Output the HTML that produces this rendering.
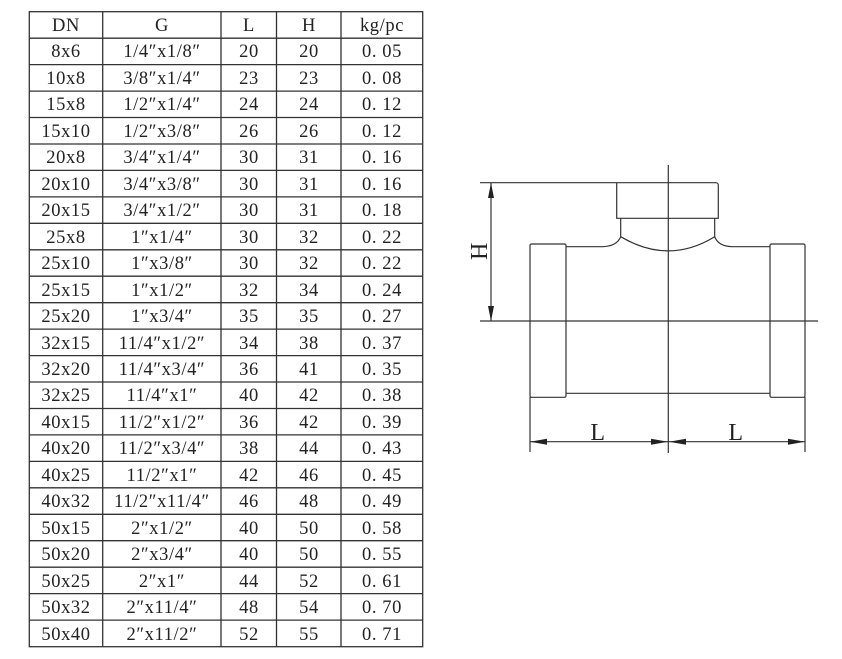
<!DOCTYPE html>
<html><head><meta charset="utf-8"><style>
html,body{margin:0;padding:0;background:#fff;}
svg{display:block;}
text{font-family:"Liberation Serif","Noto Serif CJK SC",serif;font-size:18.5px;fill:#222;letter-spacing:0.6px;}
</style></head><body>
<svg width="842" height="659" viewBox="0 0 842 659" xmlns="http://www.w3.org/2000/svg">
<g stroke="#333" stroke-width="1.3" fill="none">
<rect x="29.3" y="11.7" width="393.4" height="635"/>
<line x1="102.7" y1="11.7" x2="102.7" y2="646.7"/>
<line x1="221" y1="11.7" x2="221" y2="646.7"/>
<line x1="276.5" y1="11.7" x2="276.5" y2="646.7"/>
<line x1="341" y1="11.7" x2="341" y2="646.7"/>
<path d="M29.3 38.2H422.7M29.3 64.6H422.7M29.3 91.1H422.7M29.3 117.5H422.7M29.3 144H422.7M29.3 170.4H422.7M29.3 196.9H422.7M29.3 223.3H422.7M29.3 249.8H422.7M29.3 276.2H422.7M29.3 302.7H422.7M29.3 329.1H422.7M29.3 355.6H422.7M29.3 382H422.7M29.3 408.5H422.7M29.3 434.9H422.7M29.3 461.4H422.7M29.3 487.8H422.7M29.3 514.3H422.7M29.3 540.7H422.7M29.3 567.2H422.7M29.3 593.6H422.7M29.3 620.1H422.7"/>
</g>
<g text-anchor="middle">
<g>
<text x="66" y="31">DN</text><text x="66" y="57">8x6</text><text x="66" y="84">10x8</text><text x="66" y="110">15x8</text><text x="66" y="137">15x10</text><text x="66" y="163">20x8</text><text x="66" y="190">20x10</text><text x="66" y="216">20x15</text><text x="66" y="243">25x8</text><text x="66" y="269">25x10</text><text x="66" y="296">25x15</text><text x="66" y="322">25x20</text><text x="66" y="349">32x15</text><text x="66" y="375">32x20</text><text x="66" y="401">32x25</text><text x="66" y="428">40x15</text><text x="66" y="454">40x20</text><text x="66" y="481">40x25</text><text x="66" y="507">40x32</text><text x="66" y="534">50x15</text><text x="66" y="560">50x20</text><text x="66" y="587">50x25</text><text x="66" y="613">50x32</text><text x="66" y="640">50x40</text>
</g>
<g>
<text x="162" y="31">G</text><text x="162" y="57">1/4″x1/8″</text><text x="162" y="84">3/8″x1/4″</text><text x="162" y="110">1/2″x1/4″</text><text x="162" y="137">1/2″x3/8″</text><text x="162" y="163">3/4″x1/4″</text><text x="162" y="190">3/4″x3/8″</text><text x="162" y="216">3/4″x1/2″</text><text x="162" y="243">1″x1/4″</text><text x="162" y="269">1″x3/8″</text><text x="162" y="296">1″x1/2″</text><text x="162" y="322">1″x3/4″</text><text x="162" y="349">11/4″x1/2″</text><text x="162" y="375">11/4″x3/4″</text><text x="162" y="401">11/4″x1″</text><text x="162" y="428">11/2″x1/2″</text><text x="162" y="454">11/2″x3/4″</text><text x="162" y="481">11/2″x1″</text><text x="162" y="507">11/2″x11/4″</text><text x="162" y="534">2″x1/2″</text><text x="162" y="560">2″x3/4″</text><text x="162" y="587">2″x1″</text><text x="162" y="613">2″x11/4″</text><text x="162" y="640">2″x11/2″</text>
</g>
<g>
<text x="249" y="31">L</text><text x="249" y="57">20</text><text x="249" y="84">23</text><text x="249" y="110">24</text><text x="249" y="137">26</text><text x="249" y="163">30</text><text x="249" y="190">30</text><text x="249" y="216">30</text><text x="249" y="243">30</text><text x="249" y="269">30</text><text x="249" y="296">32</text><text x="249" y="322">35</text><text x="249" y="349">34</text><text x="249" y="375">36</text><text x="249" y="401">40</text><text x="249" y="428">36</text><text x="249" y="454">38</text><text x="249" y="481">42</text><text x="249" y="507">46</text><text x="249" y="534">40</text><text x="249" y="560">40</text><text x="249" y="587">44</text><text x="249" y="613">48</text><text x="249" y="640">52</text>
</g>
<g>
<text x="309" y="31">H</text><text x="309" y="57">20</text><text x="309" y="84">23</text><text x="309" y="110">24</text><text x="309" y="137">26</text><text x="309" y="163">31</text><text x="309" y="190">31</text><text x="309" y="216">31</text><text x="309" y="243">32</text><text x="309" y="269">32</text><text x="309" y="296">34</text><text x="309" y="322">35</text><text x="309" y="349">38</text><text x="309" y="375">41</text><text x="309" y="401">42</text><text x="309" y="428">42</text><text x="309" y="454">44</text><text x="309" y="481">46</text><text x="309" y="507">48</text><text x="309" y="534">50</text><text x="309" y="560">50</text><text x="309" y="587">52</text><text x="309" y="613">54</text><text x="309" y="640">55</text>
</g>
<g>
<text x="382" y="31">kg/pc</text><text x="382" y="57">0. 05</text><text x="382" y="84">0. 08</text><text x="382" y="110">0. 12</text><text x="382" y="137">0. 12</text><text x="382" y="163">0. 16</text><text x="382" y="190">0. 16</text><text x="382" y="216">0. 18</text><text x="382" y="243">0. 22</text><text x="382" y="269">0. 22</text><text x="382" y="296">0. 24</text><text x="382" y="322">0. 27</text><text x="382" y="349">0. 37</text><text x="382" y="375">0. 35</text><text x="382" y="401">0. 38</text><text x="382" y="428">0. 39</text><text x="382" y="454">0. 43</text><text x="382" y="481">0. 45</text><text x="382" y="507">0. 49</text><text x="382" y="534">0. 58</text><text x="382" y="560">0. 55</text><text x="382" y="587">0. 61</text><text x="382" y="613">0. 70</text><text x="382" y="640">0. 71</text>
</g>
</g>
<g stroke="#333" stroke-width="1.2" fill="none">
<line x1="668.3" y1="165" x2="668.3" y2="453"/>
<line x1="480" y1="182.7" x2="716" y2="182.7"/>
<line x1="480" y1="321" x2="818" y2="321"/>
<path d="M616.7 182.7V218.3H718.3V185a2.5 2.5 0 0 0-2.5-2.3"/>
<path d="M620.7 218.3V236.7M714.7 218.3V236.7"/>
<path d="M620.7 236.7Q668.3 265 714.7 236.7"/>
<path d="M566 246.7H603Q617 246 620.7 236.7M714.7 236.7Q718 246 731.7 246.7H770"/>
<path d="M566 393.3H770"/>
<rect x="530" y="244" width="36" height="153.3" rx="1.5"/>
<rect x="770" y="244" width="35" height="153.3" rx="1.5"/>
<line x1="491" y1="183" x2="491" y2="321"/>
<line x1="530" y1="397" x2="530" y2="452"/>
<line x1="805" y1="397" x2="805" y2="452"/>
<line x1="530" y1="441.7" x2="805" y2="441.7"/>
</g>
<g fill="#222">
<polygon points="491,183 488,198 494,198"/>
<polygon points="491,321 488,306 494,306"/>
<polygon points="530,441.7 547,438.7 547,444.7"/>
<polygon points="668,441.7 651,438.7 651,444.7"/>
<polygon points="669,441.7 686,438.7 686,444.7"/>
<polygon points="805,441.7 788,438.7 788,444.7"/>
</g>
<text x="0" y="0" transform="translate(487,251) rotate(-90)" text-anchor="middle" style="font-size:24px">H</text>
<text x="598" y="440" text-anchor="middle" style="font-size:24px">L</text>
<text x="736" y="440" text-anchor="middle" style="font-size:24px">L</text>
</svg>
</body></html>
